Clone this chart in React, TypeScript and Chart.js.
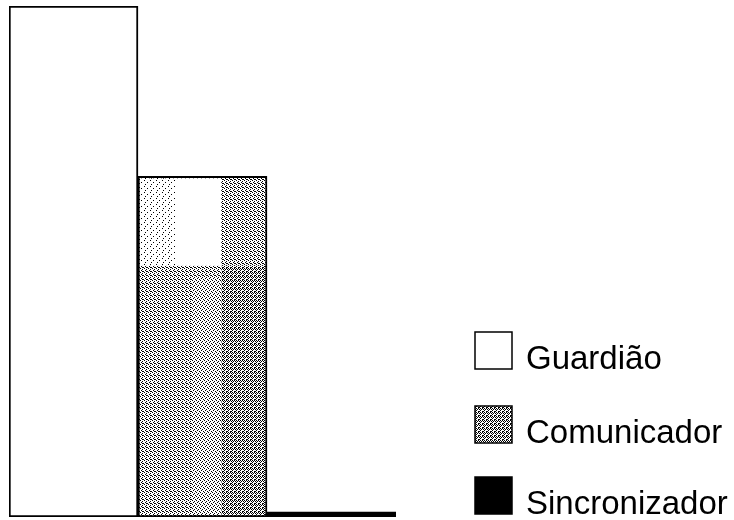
import React, { useEffect, useRef } from 'react';
import { Chart, registerables } from 'chart.js';
Chart.register(...registerables);

const categories = ['Guardião', 'Comunicador', 'Sincronizador'];
const values = [60, 40, 0.6];
const yMax = 60;

function makePattern(dots: number[][], size: number) {
  const c = document.createElement('canvas');
  c.width = size;
  c.height = size;
  const g = c.getContext('2d')!;
  g.fillStyle = '#ffffff';
  g.fillRect(0, 0, size, size);
  g.fillStyle = '#000000';
  dots.forEach(([x, y]) => g.fillRect(x, y, 1, 1));
  return g.createPattern(c, 'repeat')!;
}

export default function App() {
  const ref = useRef<HTMLCanvasElement | null>(null);

  useEffect(() => {
    const dense = makePattern([[0, 0], [2, 0], [1, 1], [3, 1], [0, 2], [2, 3], [3, 3]], 4);
    const light = makePattern([[0, 0], [3, 2], [1, 4]], 6);
    const medium = makePattern([[0, 0], [2, 1], [1, 2], [3, 3], [2, 3]], 4);
    const medLight = makePattern([[0, 0], [2, 1], [1, 2], [3, 3]], 4);
    const colors: any[] = ['#ffffff', medium, '#000000'];

    const texturePlugin = {
      id: 'texture',
      afterDatasetsDraw(chart: any) {
        const bar = chart.getDatasetMeta(0).data[1];
        if (!bar) return;
        const ctx = chart.ctx;
        const left = bar.x - bar.width / 2 + 2;
        const right = bar.x + bar.width / 2 - 2;
        const top = bar.y + 2;
        const bottom = bar.base - 2;
        const w = right - left;
        const h = bottom - top;
        const band = h * 0.26;
        ctx.save();
        ctx.fillStyle = light;
        ctx.fillRect(left, top, w * 0.28, band);
        ctx.fillStyle = '#ffffff';
        ctx.fillRect(left + w * 0.28, top, w * 0.37, band);
        ctx.fillStyle = dense;
        ctx.fillRect(left + w * 0.65, top + band, w * 0.35, h - band);
        ctx.fillStyle = medLight;
        ctx.fillRect(left + w * 0.42, top + band + 10, w * 0.23, h - band - 10);
        ctx.restore();
      },
    };

    const legendPlugin = {
      id: 'customLegend',
      afterDraw(chart: any) {
        const ctx = chart.ctx;
        const labels = chart.data.labels as string[];
        const bg = chart.data.datasets[0].backgroundColor as any[];
        const tops = [332, 406, 477];
        ctx.save();
        labels.forEach((lab, i) => {
          const x = 475;
          const y = tops[i];
          const s = 37;
          ctx.fillStyle = i === 1 ? dense : bg[i];
          ctx.fillRect(x, y, s, s);
          ctx.lineWidth = 1.5;
          ctx.strokeStyle = '#000000';
          ctx.strokeRect(x, y, s, s);
          ctx.fillStyle = '#000000';
          ctx.font = '33px "Liberation Sans", Arial, sans-serif';
          ctx.textBaseline = 'alphabetic';
          ctx.textAlign = 'left';
          ctx.fillText(lab, 526, y + s);
        });
        ctx.restore();
      },
    };

    const chart = new Chart(ref.current!, {
      type: 'bar',
      data: {
        labels: categories,
        datasets: [
          {
            data: values,
            backgroundColor: colors,
            borderColor: '#000000',
            borderWidth: 2,
            borderSkipped: false,
            barPercentage: 1,
            categoryPercentage: 1,
          },
        ],
      },
      options: {
        animation: false,
        responsive: true,
        maintainAspectRatio: false,
        layout: { padding: { left: 9, top: 6, right: 338, bottom: 3 } },
        plugins: { legend: { display: false }, tooltip: { enabled: false } },
        scales: {
          x: { display: false },
          y: { display: false, min: 0, max: yMax },
        },
      },
      plugins: [texturePlugin, legendPlugin],
    });
    return () => chart.destroy();
  }, []);

  return (
    <div style={{ position: 'fixed', left: 0, top: 0, width: 734, height: 520, background: '#fff' }}>
      <canvas ref={ref} />
    </div>
  );
}
